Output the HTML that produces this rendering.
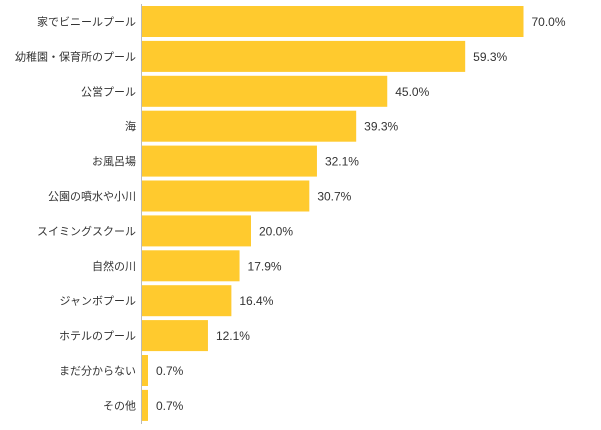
<!DOCTYPE html>
<html><head><meta charset="utf-8"><style>
body{margin:0;background:#fff;font-family:"Liberation Sans","Noto Sans CJK JP",sans-serif;}
svg{display:block}
</style></head><body>
<svg id="chart" width="601" height="430"></svg>
<script>
const categories=["家でビニールプール","幼稚園・保育所のプール","公営プール","海","お風呂場","公園の噴水や小川","スイミングスクール","自然の川","ジャンボプール","ホテルのプール","まだ分からない","その他"];
const values=[70.0,59.3,45.0,39.3,32.1,30.7,20.0,17.9,16.4,12.1,0.7,0.7];
const valueLabels=["70.0%","59.3%","45.0%","39.3%","32.1%","30.7%","20.0%","17.9%","16.4%","12.1%","0.7%","0.7%"];
const svg=document.getElementById('chart');
const NS="http://www.w3.org/2000/svg";
const x0=142, pxPer=5.45, top0=6, pitch=34.9, bh=31;
const xs=v=>Math.max(6,v*pxPer);
const ys=i=>top0+i*pitch;
function mk(t,a){const e=document.createElementNS(NS,t);for(const k in a)e.setAttribute(k,a[k]);svg.appendChild(e);return e;}
categories.forEach((c,i)=>{
  const w=xs(values[i]);
  const r=mk('rect',{x:x0,y:ys(i),width:w,height:bh,fill:'#ffca2e'});
  
  
  const l=mk('text',{x:136,y:ys(i)+bh/2+4,'text-anchor':'end','font-size':'11',fill:'#333'});
  l.textContent=c;
  
  
  const v=mk('text',{x:x0+w+8,y:ys(i)+bh/2+4.5,'font-size':'12',fill:'#333'});
  v.textContent=valueLabels[i];
  
  
});
const ax=mk('line',{x1:141.5,y1:4,x2:141.5,y2:424,stroke:'#bbb','stroke-width':1});


</script>
</body></html>
